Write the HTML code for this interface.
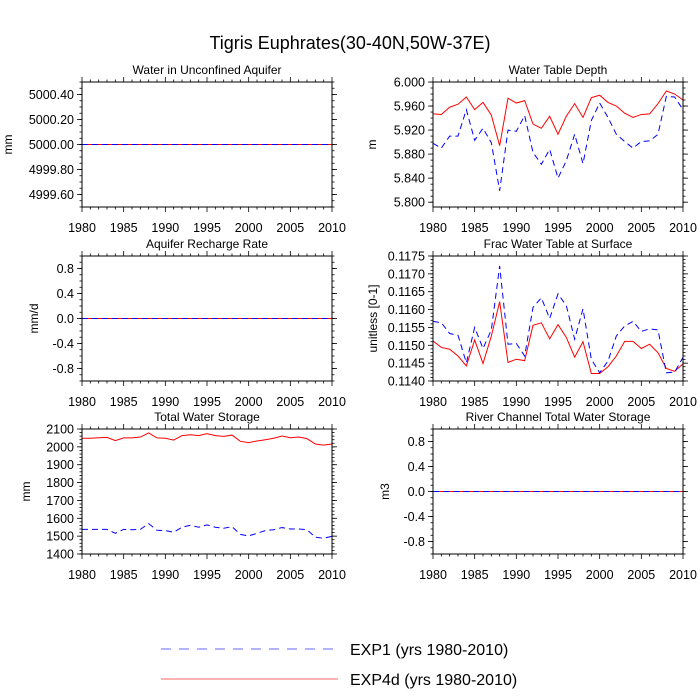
<!DOCTYPE html>
<html><head><meta charset="utf-8"><style>
body{margin:0;background:#fff;}
svg{display:block;font-family:"Liberation Sans",sans-serif;}
</style></head><body>
<svg id="c" width="700" height="700" viewBox="0 0 700 700">
<rect width="700" height="700" fill="#fff"/>
<text x="350" y="49" font-size="18" text-anchor="middle">Tigris Euphrates(30-40N,50W-37E)</text>
<g>
<line x1="161" y1="649" x2="338" y2="649" stroke="#00f" stroke-opacity="0.6" stroke-dasharray="10,8"/>
<text x="350" y="655" font-size="16">EXP1 (yrs 1980-2010)</text>
<line x1="161" y1="679" x2="338" y2="679" stroke="#f00" stroke-opacity="0.6"/>
<text x="350" y="685" font-size="16">EXP4d (yrs 1980-2010)</text>
</g>
</svg>
<script>
const years = Array.from({length:31},(_,i)=>1980+i);
const xTicks = [1980,1985,1990,1995,2000,2005,2010];
const unconfRed = Array(31).fill(5000);
const unconfBlue = Array(31).fill(5000);
const rechargeRed = Array(31).fill(0);
const rechargeBlue = Array(31).fill(0);
const riverRed = Array(31).fill(0);
const riverBlue = Array(31).fill(0);
const wtdRed = [5.947,5.946,5.958,5.963,5.975,5.954,5.966,5.945,5.894,5.973,5.965,5.969,5.930,5.923,5.943,5.913,5.943,5.964,5.941,5.974,5.978,5.966,5.960,5.948,5.941,5.946,5.947,5.964,5.985,5.980,5.970];
const wtdBlue = [5.898,5.890,5.910,5.910,5.954,5.903,5.923,5.899,5.819,5.920,5.918,5.944,5.883,5.863,5.888,5.840,5.869,5.913,5.864,5.936,5.965,5.941,5.913,5.901,5.890,5.901,5.902,5.913,5.976,5.975,5.954];
const fracRed = [0.11512,0.11494,0.11489,0.11470,0.11442,0.11515,0.11449,0.11526,0.11622,0.11452,0.11461,0.11457,0.11556,0.11563,0.11518,0.11558,0.11522,0.11467,0.11510,0.11421,0.11421,0.11440,0.11470,0.11511,0.11511,0.11491,0.11503,0.11479,0.11435,0.11427,0.11448];
const fracBlue = [0.11567,0.11563,0.11533,0.11528,0.11451,0.11550,0.11491,0.11543,0.11722,0.11503,0.11505,0.11470,0.11606,0.11633,0.11575,0.11644,0.11611,0.11517,0.11602,0.11461,0.11423,0.11456,0.11526,0.11554,0.11567,0.11539,0.11546,0.11543,0.11423,0.11425,0.11466];
const twsRed = [2048,2048,2051,2053,2035,2050,2050,2055,2078,2050,2048,2038,2063,2068,2063,2074,2063,2059,2066,2031,2024,2033,2040,2048,2061,2051,2055,2046,2016,2010,2016];
const twsBlue = [1538,1538,1538,1538,1516,1538,1536,1538,1570,1533,1531,1522,1550,1561,1550,1563,1550,1544,1553,1510,1501,1516,1531,1536,1548,1540,1540,1536,1494,1488,1499];
const ticksUnconf = [4999.6,4999.8,5000.0,5000.2,5000.4];
const ticksUnit = [-0.8,-0.4,0.0,0.4,0.8];
const ticksWtd = [5.8,5.84,5.88,5.92,5.96,6.0];
const ticksFrac = [0.114,0.1145,0.115,0.1155,0.116,0.1165,0.117,0.1175];
const ticksTws = [1400,1500,1600,1700,1800,1900,2000,2100];

const NS='http://www.w3.org/2000/svg';
const svg=document.getElementById('c');
function mk(tag,attrs,parent){const e=document.createElementNS(NS,tag);for(const k in attrs)e.setAttribute(k,attrs[k]);(parent||svg).appendChild(e);return e;}

const panels=[
 {name:'water-unconfined-aquifer',title:'Water in Unconfined Aquifer',unit:'mm',ux:8,x0:82,y0:82,ymin:4999.5,ymax:5000.5,ticks:ticksUnconf,minor:0.05,fmt:v=>v.toFixed(2),red:unconfRed,blue:unconfBlue},
 {name:'water-table-depth',title:'Water Table Depth',unit:'m',ux:372,x0:433,y0:82,ymin:5.792,ymax:6.0,ticks:ticksWtd,minor:0.01,fmt:v=>v.toFixed(3),red:wtdRed,blue:wtdBlue},
 {name:'aquifer-recharge-rate',title:'Aquifer Recharge Rate',unit:'mm/d',ux:34,x0:82,y0:256,ymin:-1,ymax:1,ticks:ticksUnit,minor:0.1,fmt:v=>v.toFixed(1),red:rechargeRed,blue:rechargeBlue},
 {name:'frac-water-table',title:'Frac Water Table at Surface',unit:'unitless [0-1]',ux:373,x0:433,y0:256,ymin:0.114,ymax:0.1175,ticks:ticksFrac,minor:0.0001,fmt:v=>v.toFixed(4),red:fracRed,blue:fracBlue},
 {name:'total-water-storage',title:'Total Water Storage',unit:'mm',ux:26,x0:82,y0:429,ymin:1400,ymax:2100,ticks:ticksTws,minor:20,fmt:v=>v.toFixed(0),red:twsRed,blue:twsBlue},
 {name:'river-channel-storage',title:'River Channel Total Water Storage',unit:'m3',ux:385,x0:433,y0:429,ymin:-1,ymax:1,ticks:ticksUnit,minor:0.1,fmt:v=>v.toFixed(1),red:riverRed,blue:riverBlue},
];
const W=250,H=125;
panels.forEach(p=>{
 const g=mk('g',{});
 
 
 const sx=v=>p.x0+(v-1980)/30*W;
 const sy=v=>p.y0+H-(v-p.ymin)/(p.ymax-p.ymin)*H;
 const t=mk('text',{x:p.x0+W/2,y:p.y0-8,'font-size':12,'text-anchor':'middle'},g);t.textContent=p.title;
 
 for(let y=1980;y<=2010;y++){const maj=y%5===0,L=maj?5:2.5;
  mk('line',{x1:sx(y),x2:sx(y),y1:p.y0+H,y2:p.y0+H+L,stroke:'#000','stroke-width':0.8},g);
  mk('line',{x1:sx(y),x2:sx(y),y1:p.y0,y2:p.y0-L,stroke:'#000','stroke-width':0.8},g);}
 xTicks.forEach(y=>{const l=mk('text',{x:sx(y),y:p.y0+H+25,'font-size':12.5,'text-anchor':'middle'},g);l.textContent=y;
  });
 const n0=Math.ceil(p.ymin/p.minor-1e-6),n1=Math.floor(p.ymax/p.minor+1e-6);
 for(let i=n0;i<=n1;i++){const v=i*p.minor;mk('line',{x1:p.x0,x2:p.x0-2.5,y1:sy(v),y2:sy(v),stroke:'#000','stroke-width':0.8},g);
  mk('line',{x1:p.x0+W,x2:p.x0+W+2.5,y1:sy(v),y2:sy(v),stroke:'#000','stroke-width':0.8},g);}
 p.ticks.forEach(v=>{mk('line',{x1:p.x0,x2:p.x0-5,y1:sy(v),y2:sy(v),stroke:'#000','stroke-width':0.8},g);
  mk('line',{x1:p.x0+W,x2:p.x0+W+5,y1:sy(v),y2:sy(v),stroke:'#000','stroke-width':0.8},g);
  const l=mk('text',{x:p.x0-8,y:sy(v)+4.5,'font-size':12.5,'text-anchor':'end'},g);l.textContent=p.fmt(v);
  });
 const u=mk('text',{x:0,y:0,'font-size':12,'text-anchor':'middle',transform:`translate(${p.ux+4},${p.y0+H/2}) rotate(-90)`},g);u.textContent=p.unit;
 
 const ptsB=years.map((y,i)=>sx(y)+','+sy(p.blue[i])).join(' ');
 const ptsR=years.map((y,i)=>sx(y)+','+sy(p.red[i])).join(' ');
 const r=mk('polyline',{points:ptsR,fill:'none',stroke:'#f00','stroke-width':1},g);
 
 const b=mk('polyline',{points:ptsB,fill:'none',stroke:'#00f','stroke-width':1,'stroke-dasharray':'6,4'},g);
 
 mk('rect',{x:p.x0,y:p.y0,width:W,height:H,fill:'none',stroke:'#000','stroke-width':1},g);
});
</script>
</body></html>
